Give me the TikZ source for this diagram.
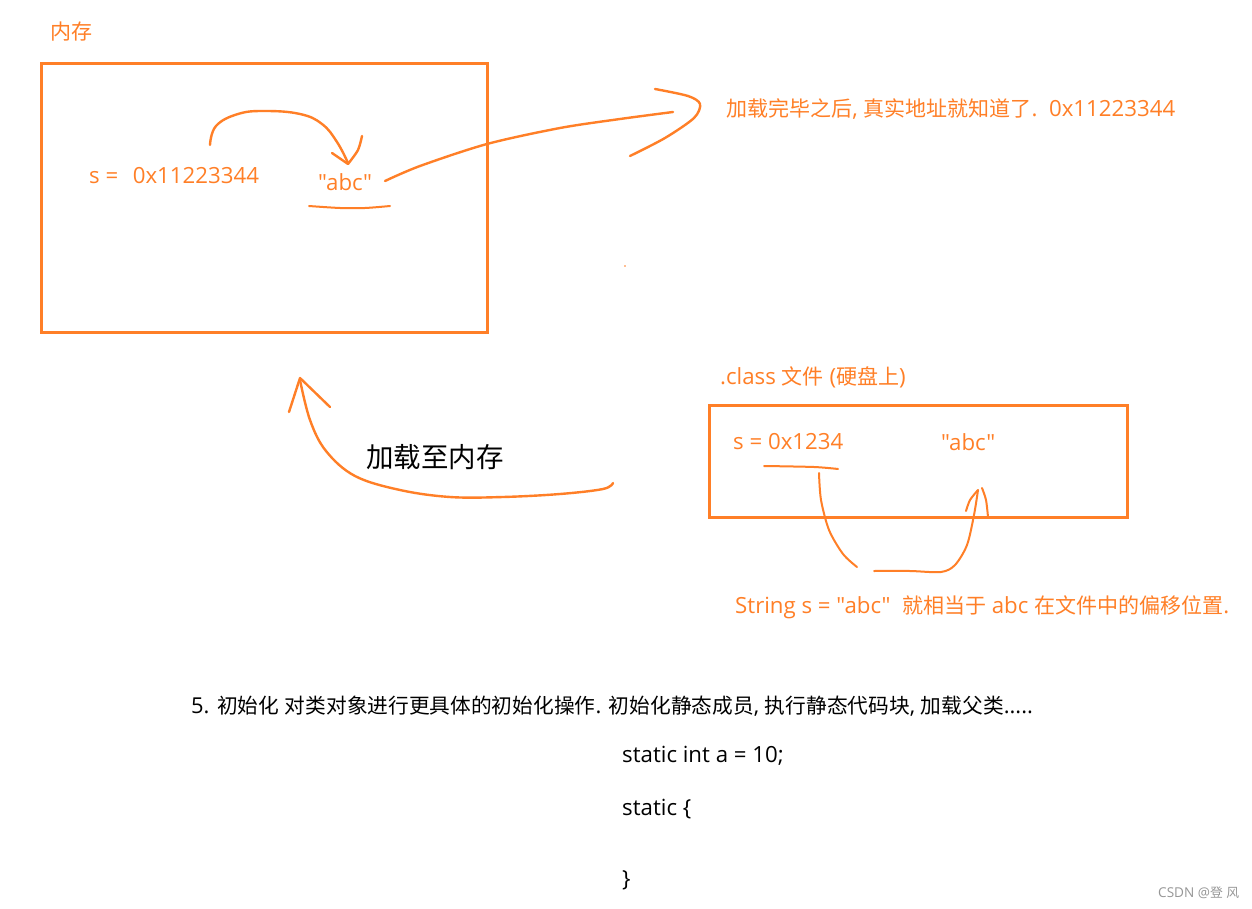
\documentclass[tikz,border=0pt]{standalone}
\usepackage{fontspec}
\setmainfont{Open Sans}[Ligatures=TeXOff, Scale=1.085]
\newfontfamily\cjk{Noto Sans CJK SC}[Ligatures=TeXOff, Scale=1.025]
\definecolor{org}{RGB}{255,127,39}
\definecolor{csdn}{RGB}{150,150,150}
\tikzset{
  otext/.style={text=org, font=\fontsize{20.5}{24}\selectfont, anchor=west, inner sep=0pt},
  btext/.style={text=black, font=\fontsize{20.5}{24}\selectfont, anchor=west, inner sep=0pt},
  obox/.style={draw=org, line width=3pt},
  stroke/.style={draw=org, line width=2.4pt, line cap=round, line join=round},
}
\begin{document}
\begin{tikzpicture}[x=1pt,y=-1pt]
\path[use as bounding box, fill=white] (0,0) rectangle (1252,909);
% memory
\node[otext] (memlbl) at (50,32) {\cjk 内存};
\node[obox, minimum width=446pt, minimum height=269pt, anchor=north west, inner sep=0pt] (mem) at (40,62) {};
\node[otext] (sval) at (89,176) {s =\ \ \hspace{3pt}0x11223344};
\node[otext] (abc1) at (318,182) {"abc"};
\draw[stroke] plot[smooth, tension=0.7] coordinates {(210,145) (216,126) (238,114) (265,111) (300,114) (322,124) (337,142) (348,163)};
\draw[stroke] (332,153) -- (348,164);
\draw[stroke] plot[smooth] coordinates {(362,136) (358,150) (348,164)};
\draw[stroke, line width=2pt] plot[smooth] coordinates {(309,206) (340,208) (365,208) (390,206)};
\draw[stroke] plot[smooth] coordinates {(385,181) (420,166) (487,144) (560,128) (620,119) (673,112)};
\draw[stroke] plot[smooth] coordinates {(655,89) (688,96) (700,104) (694,118) (665,138) (630,156)};
\node[otext] (real) at (726,109) {{\cjk 加载完毕之后}, {\cjk 真实地址就知道了}.\ \ 0x11223344};
\fill[org] (625,266) circle (0.8pt);
% class file
\node[otext] (clslbl) at (720,377) {.class {\cjk 文件} ({\cjk 硬盘上})};
\node[obox, minimum width=418pt, minimum height=112pt, anchor=north west, inner sep=0pt] (cls) at (708,404) {};
\node[otext] (s2) at (733,442) {s = 0x1234};
\node[otext] (abc2) at (941,442) {"abc"};
\draw[stroke, line width=2pt] plot[smooth] coordinates {(764,466) (814,467) (838,469)};
\draw[stroke, line width=2pt] plot[smooth] coordinates {(819,473) (821,500) (829,530) (843,554) (857,567)};
\draw[stroke, line width=2pt] plot[smooth] coordinates {(874,571) (910,571) (941,572) (955,565) (967,545) (974,515) (978,490)};
\draw[stroke, line width=2pt] plot[smooth] coordinates {(966,511) (970,500) (978,490)};
\draw[stroke, line width=2pt] plot[smooth] coordinates {(982,488) (986,500) (988,517)};
\node[otext] (offs) at (735,607) {String s = "abc"\ \ {\cjk 就相当于} abc {\cjk 在文件中的偏移位置}.};
% load arrow
\node[btext, font=\fontsize{26.8}{30}\selectfont\cjk] (load) at (366,457) {加载至内存};
\draw[stroke] plot[smooth, tension=0.6] coordinates {(613,483) (603,489) (560,494) (503,497) (450,497) (400,490) (355,476) (326,451) (310,420) (300,380)};
\draw[stroke] (289,412) -- (300,378) -- (330,407);
% bottom text
\node[btext, font=\fontsize{20.2}{24}\selectfont] (init) at (191,706) {5. {\cjk 初始化} {\cjk 对类对象进行更具体的初始化操作}. {\cjk 初始化静态成员}, {\cjk 执行静态代码块}, {\cjk 加载父类}.....};
\node[btext] (c1) at (622,756) {static int a = 10;};
\node[btext] (c2) at (622,809) {static \{};
\node[btext] (c3) at (622,880) {\}};
\node[text=csdn, font=\fontsize{12.5}{15}\selectfont, anchor=west, inner sep=0pt] (wm) at (1158,893) {CSDN @{\cjk 登} {\cjk 风}};
\end{tikzpicture}
\end{document}
